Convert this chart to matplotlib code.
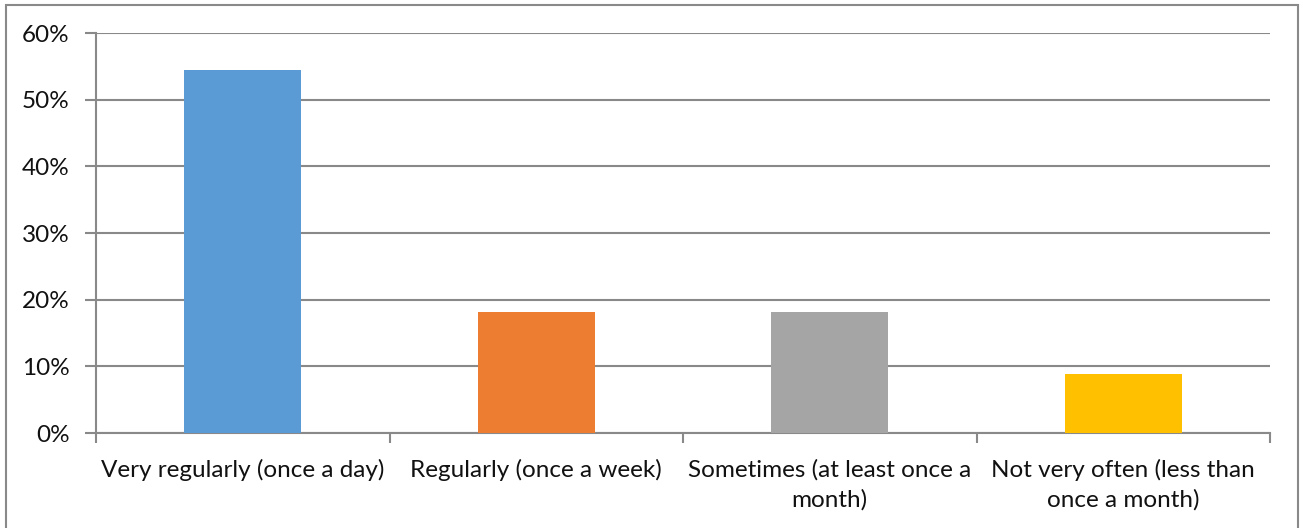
import matplotlib.pyplot as plt
from matplotlib.patches import Rectangle
from matplotlib.ticker import FuncFormatter, MultipleLocator

# datos
categorias = ["Very regularly (once a day)", "Regularly (once a week)",
              "Sometimes (at least once a\nmonth)", "Not very often (less than\nonce a month)"]
valores = [54.5, 18.2, 18.2, 8.9]
colores = ["#5B9BD5", "#ED7D31", "#A5A5A5", "#FFC000"]

plt.rcParams['font.family'] = ['Lato', 'DejaVu Sans']

W, H = 1303, 528
fig = plt.figure(figsize=(W / 100, H / 100), dpi=100)
ax = fig.add_axes([96 / W, (H - 433) / H, (1270 - 96) / W, 400 / H])

gris = "#898989"
x = list(range(len(categorias)))
ax.bar(x, valores, width=0.4, color=colores, zorder=3)

ax.set_xlim(-0.5, len(categorias) - 0.5)
ax.set_ylim(0, 60)
ax.yaxis.set_major_locator(MultipleLocator(10))
ax.yaxis.set_major_formatter(FuncFormatter(lambda v, p: f"{v:.0f}%"))
ax.grid(axis='y', color=gris, linewidth=1.5, zorder=0)

# etiquetas de categorias centradas, marcas en los limites
ax.set_xticks(x)
ax.set_xticklabels(categorias, fontsize=17.5, color="#111111", linespacing=1.45)
ax.tick_params(axis='x', length=0, pad=19)
ax.set_xticks([i - 0.5 for i in range(len(categorias) + 1)], minor=True)
ax.tick_params(axis='x', which='minor', length=7, width=1.5, color=gris, direction='out')
ax.tick_params(axis='y', length=8, width=1.5, color=gris, labelsize=17.5, labelcolor="#111111", pad=11)

for lado in ['top', 'right']:
    ax.spines[lado].set_visible(False)
for lado in ['left', 'bottom']:
    ax.spines[lado].set_color(gris)
    ax.spines[lado].set_linewidth(1.5)

# marco exterior del grafico
fig.patches.append(Rectangle((6 / W, -0.05), (1298 - 6) / W, 1.05 - 5 / H,
                             transform=fig.transFigure, fill=False,
                             edgecolor=gris, linewidth=1.5))

plt.savefig("out.png", dpi=100)
